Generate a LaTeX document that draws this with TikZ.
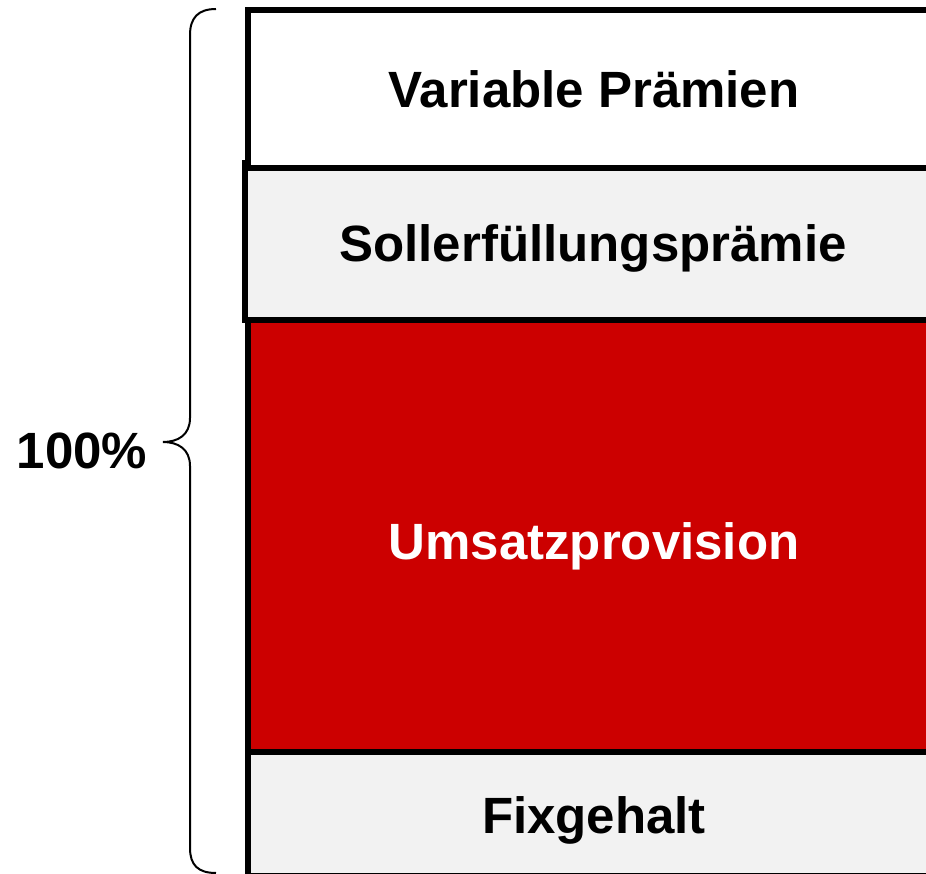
\documentclass[tikz,border=0pt]{standalone}
\usepackage{fontspec}
\setmainfont{Liberation Sans}
\definecolor{boxred}{RGB}{204,0,0}
\definecolor{boxgray}{RGB}{242,242,242}
\tikzset{
  layer/.style={draw=black, line width=6pt, anchor=north west, inner sep=0pt, outer sep=0pt, minimum width=692pt},
  lbl/.style={font=\fontsize{51}{60}\selectfont\bfseries, inner sep=0pt, anchor=base},
}
\begin{document}
\begin{tikzpicture}[x=1pt,y=1pt]
\useasboundingbox (0,0) rectangle (926,-874);
\node[layer, fill=boxgray, minimum height=124pt] (fix) at (248,-752) {};
\node[layer, fill=boxred, minimum height=432pt] (ums) at (248,-320) {};
\node[layer, fill=boxgray, minimum height=157pt, minimum width=698pt] (soll) at (245,-163) {};
\node[layer, fill=white, minimum height=158pt] (var) at (248,-10) {};
\node[lbl] (tvar) at (594,-108) {Variable Prämien};
\node[lbl] (tsoll) at (593,-262) {Sollerfüllungsprämie};
\node[lbl, text=white] (tums) at (594,-559) {Umsatzprovision};
\node[lbl] (tfix) at (594,-833) {Fixgehalt};
\node[lbl] (pct) at (82,-468) {100\%};
\coordinate (btop) at (216,-9);
\coordinate (bbot) at (216,-873);
\draw[line width=2pt] (btop) .. controls (198,-9) and (190,-18) .. (190,-35) -- (190,-418) .. controls (190,-435) and (178,-442) .. (163,-442) .. controls (178,-442) and (190,-449) .. (190,-466) -- (190,-848) .. controls (190,-865) and (198,-873) .. (bbot);
\end{tikzpicture}
\end{document}
